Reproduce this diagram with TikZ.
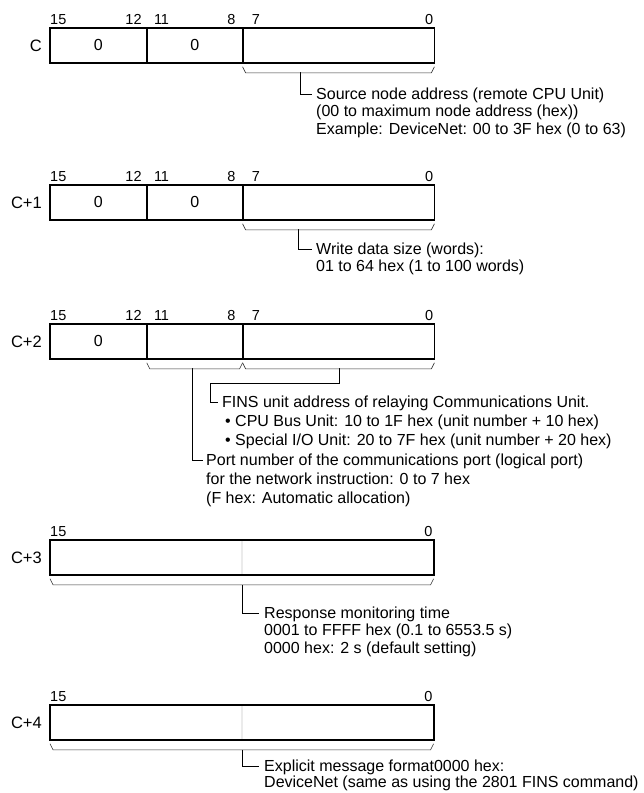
\documentclass[tikz,border=0pt]{standalone}
\usepackage{fontspec}
\setmainfont{Liberation Sans}
\usetikzlibrary{positioning,calc}

\begin{document}
\begin{tikzpicture}[x=1pt,y=-1pt,
fld/.style={draw,line width=0.8pt,minimum height=34pt,inner sep=0pt,anchor=north west,font=\fontsize{16}{18}\selectfont},
half/.style={fld,draw=black!8},
frame/.style={line width=1.8pt},
reg/.style={inner sep=0pt,font=\fontsize{16.5}{18}\selectfont},
bit/.style={inner sep=0pt,font=\fontsize{14.5}{16}\selectfont},
brc/.style={line width=0.6pt,black!80},
lnk/.style={line width=0.7pt},
note/.style={inner sep=0pt,anchor=north west,align=left,font=\fontsize{16}{17.5}\selectfont}]
\useasboundingbox (0,0) rectangle (643,793);

% C
\node[fld,minimum width=96pt] (w0a) at (50,28) {0};
\node[fld,minimum width=95pt] (w0b) at (w0a.north east) {0};
\node[fld,minimum width=191pt] (w0c) at (w0b.north east) {};
\draw[frame] (w0a.north west) rectangle (w0c.south east);
\node[reg,left=8pt of w0a] (l0) {C};
\node[bit,above right=3pt and 0pt of w0a.north west] {15};
\node[bit,above left=3pt and 5pt of w0a.north east] {12};
\node[bit,above right=3pt and 7pt of w0b.north west] {11};
\node[bit,above left=3pt and 7pt of w0b.north east] {8};
\node[bit,above right=3pt and 9pt of w0c.north west] {7};
\node[bit,above left=3pt and 1pt of w0c.north east] {0};
\coordinate (s0) at (300,72);
\node[note] (t0) at (316,87) {\rule{0pt}{12pt}Source node address (remote CPU Unit)\\(00 to maximum node address (hex))\\Example: DeviceNet: 00 to 3F hex (0 to 63)};
\draw[lnk] (s0) |- ([shift={(-4,7)}]t0.north west);

% C+1
\node[fld,minimum width=96pt] (w1a) at (50,185) {0};
\node[fld,minimum width=95pt] (w1b) at (w1a.north east) {0};
\node[fld,minimum width=191pt] (w1c) at (w1b.north east) {};
\draw[frame] (w1a.north west) rectangle (w1c.south east);
\node[reg,left=8pt of w1a] (l1) {C+1};
\node[bit,above right=3pt and 0pt of w1a.north west] {15};
\node[bit,above left=3pt and 5pt of w1a.north east] {12};
\node[bit,above right=3pt and 7pt of w1b.north west] {11};
\node[bit,above left=3pt and 7pt of w1b.north east] {8};
\node[bit,above right=3pt and 9pt of w1c.north west] {7};
\node[bit,above left=3pt and 1pt of w1c.north east] {0};
\coordinate (s1) at (298,229);
\node[note] (t1) at (316,242) {\rule{0pt}{12pt}Write data size (words):\\01 to 64 hex (1 to 100 words)};
\draw[lnk] (s1) |- ([shift={(-4,7)}]t1.north west);

% C+2
\node[fld,minimum width=96pt] (w2a) at (50,324) {0};
\node[fld,minimum width=95pt] (w2b) at (w2a.north east) {};
\node[fld,minimum width=191pt] (w2c) at (w2b.north east) {};
\draw[frame] (w2a.north west) rectangle (w2c.south east);
\node[reg,left=8pt of w2a] (l2) {C+2};
\node[bit,above right=3pt and 0pt of w2a.north west] {15};
\node[bit,above left=3pt and 5pt of w2a.north east] {12};
\node[bit,above right=3pt and 7pt of w2b.north west] {11};
\node[bit,above left=3pt and 7pt of w2b.north east] {8};
\node[bit,above right=3pt and 9pt of w2c.north west] {7};
\node[bit,above left=3pt and 1pt of w2c.north east] {0};
\coordinate (s2a) at (192,368);
\coordinate (s2b) at (339,368);
\coordinate (k2) at (210,383);
\node[note,font=\fontsize{16}{19}\selectfont] (t2b) at (222,395) {\rule{0pt}{12pt}FINS unit address of relaying Communications Unit.\\\hspace{3pt}• CPU Bus Unit: 10 to 1F hex (unit number + 10 hex)\\\hspace{3pt}• Special I/O Unit: 20 to 7F hex (unit number + 20 hex)};
\node[note,font=\fontsize{16}{19}\selectfont] (t2a) at (206,453) {\rule{0pt}{12pt}Port number of the communications port (logical port)\\for the network instruction: 0 to 7 hex\\(F hex: Automatic allocation)};
\draw[lnk] (s2b) |- (k2) |- ([shift={(-4,7)}]t2b.north west);
\draw[lnk] (s2a) |- ([shift={(-3,7)}]t2a.north west);

% C+3
\node[half,minimum width=191pt] (w3a) at (50,540) {};
\node[half,minimum width=191pt] (w3b) at (w3a.north east) {};
\draw[frame] (w3a.north west) rectangle (w3b.south east);
\node[reg,left=8pt of w3a] (l3) {C+3};
\node[bit,above right=3pt and 0pt of w3a.north west] {15};
\node[bit,above left=3pt and 1pt of w3b.north east] {0};
\coordinate (s3) at ($(w3a.south east)+(1,10)$);
\node[note] (t3) at (264,606) {\rule{0pt}{12pt}Response monitoring time\\0001 to FFFF hex (0.1 to 6553.5 s)\\0000 hex: 2 s (default setting)};
\draw[lnk] (s3) |- ([shift={(-5,7)}]t3.north west);

% C+4
\node[half,minimum width=191pt] (w4a) at (50,705) {};
\node[half,minimum width=191pt] (w4b) at (w4a.north east) {};
\draw[frame] (w4a.north west) rectangle (w4b.south east);
\node[reg,left=8pt of w4a] (l4) {C+4};
\node[bit,above right=3pt and 0pt of w4a.north west] {15};
\node[bit,above left=3pt and 1pt of w4b.north east] {0};
\coordinate (s4) at ($(w4a.south east)+(1,10)$);
\node[note,font=\fontsize{16}{16}\selectfont] (t4) at (264,759) {\rule{0pt}{12pt}Explicit message format0000 hex:\\DeviceNet (same as using the 2801 FINS command)};
\draw[lnk] (s4) |- ([shift={(-5,7)}]t4.north west);

% braces
\foreach \a/\b in {w0c/w0c,w1c/w1c,w2b/w2b,w2c/w2c,w3a/w3b,w4a/w4b}
  \draw[brc] ($(\a.south west)+(0,4)$) -- ++(3,6) -- ($(\b.south east)+(-3,10)$) -- ++(3,-6);
\end{tikzpicture}
\end{document}
